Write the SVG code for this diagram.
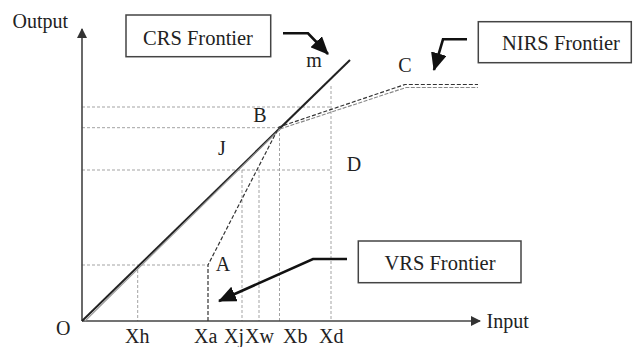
<svg xmlns="http://www.w3.org/2000/svg" width="633" height="347" viewBox="0 0 633 347" font-family="Liberation Serif, Times New Roman, serif">
<style>
text{font-family:'Liberation Serif',serif;font-size:20px;fill:#222}
.box{fill:#fff;stroke:#444;stroke-width:1.5}
.bt{font-size:20.5px}
.grid{stroke:#999;stroke-width:0.9;stroke-dasharray:3 2;fill:none}
.axis{stroke:#444;stroke-width:1.6;fill:none}
.crs{stroke:#222;stroke-width:2;fill:none}
.nirs{stroke:#888;stroke-width:1.1;stroke-dasharray:4 1.5;fill:none}
.nirs0{stroke:#999;stroke-width:1.1;fill:none}
.vrs{stroke:#333;stroke-width:1.2;stroke-dasharray:4 2;fill:none}
.call{stroke:#111;stroke-width:2.6;fill:none}
</style>
<defs>
<marker id="ah" markerWidth="10" markerHeight="10" refX="9" refY="5" orient="auto" markerUnits="userSpaceOnUse">
<path d="M0,0 L10,5 L0,10 z" fill="#333"/>
</marker>
<marker id="bh" markerWidth="18" markerHeight="16" refX="17" refY="8" orient="auto" markerUnits="userSpaceOnUse">
<path d="M0,0 L18,8 L0,16 z" fill="#111"/>
</marker>
</defs>
<g id="grid">
<line class="grid" x1="82" y1="107" x2="331" y2="107"/>
<line class="grid" x1="82" y1="127.7" x2="279" y2="127.7"/>
<line class="grid" x1="82" y1="170" x2="331" y2="170"/>
<line class="grid" x1="82" y1="265" x2="208" y2="265"/>
<line class="grid" x1="137.7" y1="265" x2="137.7" y2="321"/>
<line class="grid" x1="242" y1="170" x2="242" y2="321"/>
<line class="grid" x1="259" y1="170" x2="259" y2="321"/>
<line class="grid" x1="279.5" y1="128" x2="279.5" y2="321"/>
<line class="grid" x1="331" y1="86" x2="331" y2="321"/>
</g>
<g id="axes">
<line class="axis" x1="82" y1="321" x2="82" y2="29" marker-end="url(#ah)"/>
<line class="axis" x1="82" y1="321" x2="480" y2="321" marker-end="url(#ah)"/>
</g>
<g id="frontiers">
<line class="crs" x1="82" y1="321" x2="350" y2="60"/>
<polyline class="nirs0" points="85,321 280,129"/>
<polyline class="nirs" points="280,129 406,87.5 478,87.5"/>
<polyline class="vrs" points="208,321 208,265 279,127 405,84.5 478,84.5"/>
</g>
<g id="connectors">
<polyline class="call" points="283,33.3 308,33.3 328,54" marker-end="url(#bh)"/>
<polyline class="call" points="467,39.3 443,39.3 434,70" marker-end="url(#bh)"/>
<polyline class="call" points="347,259 313,259 219,301" marker-end="url(#bh)"/>
</g>
<g id="crs-box">
<rect class="box" x="126" y="15" width="144.7" height="41.7"/>
<text class="bt" x="198" y="44.5" text-anchor="middle">CRS Frontier</text>
</g>
<g id="nirs-box">
<rect class="box" x="478.3" y="21.7" width="153" height="41"/>
<text class="bt" x="561" y="50" text-anchor="middle">NIRS Frontier</text>
</g>
<g id="vrs-box">
<rect class="box" x="358.3" y="241" width="162.7" height="41.7"/>
<text class="bt" x="440" y="269.5" text-anchor="middle">VRS Frontier</text>
</g>
<g id="labels">
<text x="12.5" y="27.5">Output</text>
<text x="486.5" y="328">Input</text>
<text x="56" y="335">O</text>
<text x="314" y="66.7" text-anchor="middle">m</text>
<text x="405" y="72.3" text-anchor="middle">C</text>
<text x="260" y="122.3" text-anchor="middle">B</text>
<text x="222" y="155" text-anchor="middle">J</text>
<text x="354" y="171" text-anchor="middle">D</text>
<text x="223" y="270.7" text-anchor="middle">A</text>
<text x="125" y="343">Xh</text>
<text x="194" y="343">Xa</text>
<text x="224" y="343">Xj</text>
<text x="245" y="343">Xw</text>
<text x="283" y="343">Xb</text>
<text x="319" y="343">Xd</text>
</g>
</svg>
